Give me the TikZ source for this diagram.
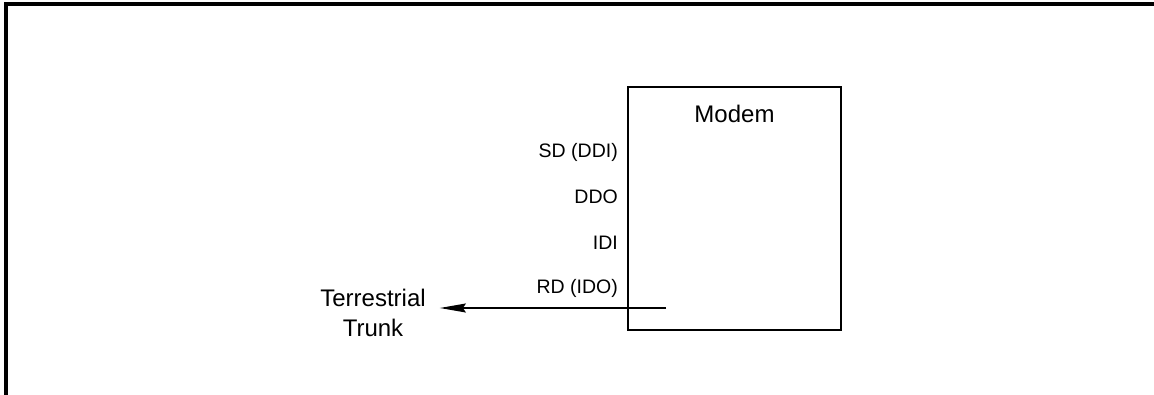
\documentclass[tikz,border=0pt]{standalone}
\usepackage{fontspec}
\setmainfont{Liberation Sans}
\usetikzlibrary{calc}
\usetikzlibrary{arrows.meta}
\usetikzlibrary{positioning}

\begin{document}
\begin{tikzpicture} [x=1pt,y=-1pt]
\tikzset{
 pinlabel/.style={anchor=east, inner sep=0, font=\fontsize{19.5}{23}\selectfont},
 bigtext/.style={font=\fontsize{24}{30}\selectfont}
}
\useasboundingbox (0,0) rectangle (1154,395);
\draw[line width=4pt] (6,395)--(6,4)--(1154,4);
\node[draw, line width=2pt, minimum width=213pt, minimum height=243pt, inner sep=0] (modem) at (734.5,208.5) {};
\node[bigtext, below=28pt of modem.north, anchor=center, inner sep=0] (title) {Modem};
\foreach \lab/\y in {SD (DDI)/152, DDO/197, IDI/243, RD (IDO)/288} {
 \node[pinlabel] (pin-\y) at (618,\y) {\lab};
}
\node[bigtext, align=center, inner xsep=14pt, inner ysep=0] (trunk) at (373,313) {Terrestrial\\Trunk};
\coordinate (rd) at (666,308);
\draw[line width=1.3pt, -{Stealth[length=26pt,width=9pt,inset=3pt]}] (rd) -- (rd -| trunk.east);
\end{tikzpicture}
\end{document}
